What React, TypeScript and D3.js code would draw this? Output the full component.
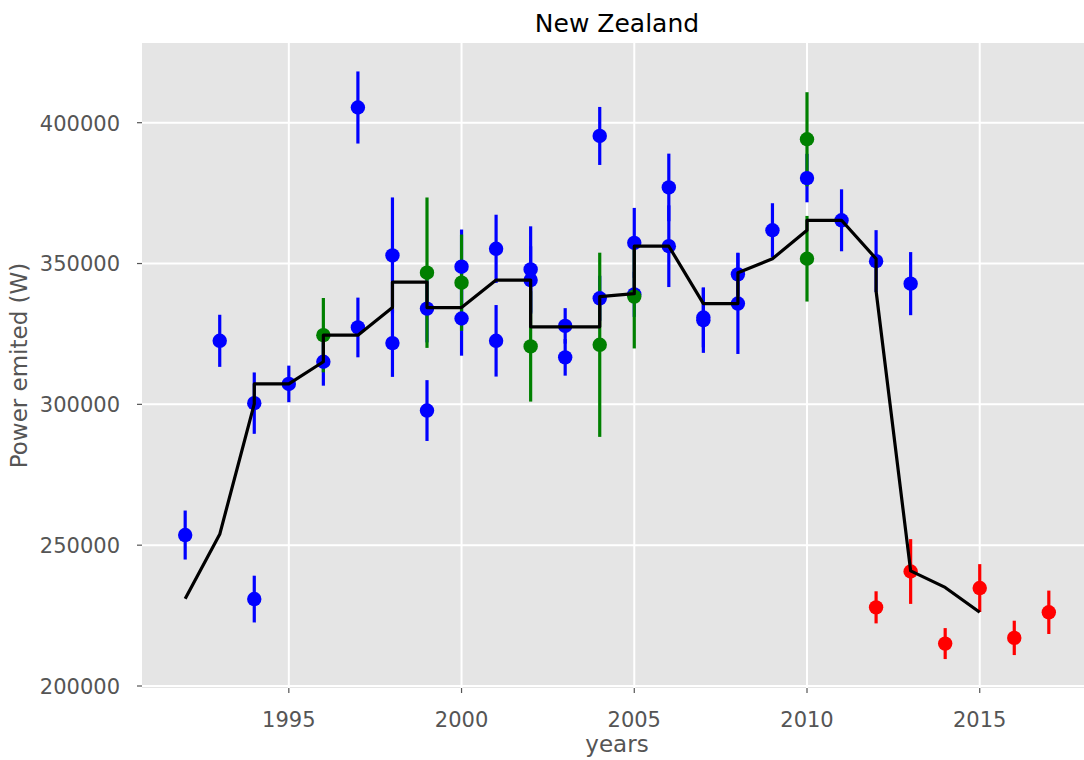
import React from "react";
import * as d3 from "d3";

// ---- data ----
const blueYears = [1992, 1993, 1994, 1994, 1995, 1996, 1997, 1997, 1998, 1998, 1999, 1999, 2000, 2000, 2001, 2001, 2002, 2002, 2003, 2003, 2004, 2004, 2005, 2005, 2006, 2006, 2007, 2007, 2008, 2008, 2009, 2010, 2011, 2012, 2013];
const blueValues = [253600, 322560, 300430, 230870, 307250, 315130, 405400, 327300, 352870, 321750, 334000, 297800, 348870, 330480, 355230, 322560, 347910, 344130, 327860, 316690, 395300, 337660, 357350, 339060, 377020, 356150, 330830, 329880, 346150, 335790, 361810, 380340, 365350, 350850, 342860];
const blueErrors = [8700, 9250, 10900, 8300, 6500, 8500, 12800, 10600, 20600, 12000, 12000, 10800, 13200, 13200, 12100, 12700, 15300, 12000, 6300, 6500, 10300, 8000, 12400, 8000, 12000, 14500, 10600, 11600, 7700, 17900, 9600, 8600, 11000, 11000, 11200];

const greenYears = [1996, 1999, 2000, 2002, 2004, 2005, 2010, 2010];
const greenValues = [324570, 346750, 343200, 320580, 321150, 338250, 394130, 351700];
const greenErrors = [13200, 26700, 17100, 19600, 32700, 18400, 16700, 15200];

const redYears = [2012, 2013, 2014, 2015, 2016, 2017];
const redValues = [227930, 240650, 215060, 234770, 217080, 226170];
const redErrors = [5700, 11500, 5500, 8500, 6100, 7700];

const lineYears = [1992, 1993, 1994, 1994, 1995, 1996, 1996, 1997, 1998, 1998, 1999, 1999, 2000, 2001, 2002, 2002, 2003, 2004, 2004, 2005, 2005, 2006, 2007, 2008, 2008, 2009, 2010, 2010, 2011, 2012, 2012, 2013, 2014, 2015];
const lineValues = [230980, 253850, 300200, 307250, 307250, 315130, 324570, 324570, 334370, 343420, 343420, 334370, 334370, 344130, 344130, 327510, 327510, 327510, 338250, 339310, 356150, 356150, 335790, 335790, 346750, 351700, 361810, 365350, 365350, 351700, 340240, 240880, 235000, 226170];

const xTicks = [1995, 2000, 2005, 2010, 2015];
const yTicks = [200000, 250000, 300000, 350000, 400000];

const title = "New Zealand";
const xLabel = "years";
const yLabel = "Power emited (W)";

const series = [
  { color: "#0000ff", years: blueYears, values: blueValues, errors: blueErrors },
  { color: "#008000", years: greenYears, values: greenValues, errors: greenErrors },
  { color: "#ff0000", years: redYears, values: redValues, errors: redErrors },
];

export default function App() {
  const W = 1084;
  const H = 760;
  const left = 142;
  const top = 43;
  const right = 1092;
  const bottom = 688;

  const x = d3.scaleLinear().domain([1990.75, 2018.25]).range([left, right]);
  const y = d3.scaleLinear().domain([199290, 428300]).range([bottom, top]);

  const line = d3
    .line<number>()
    .x((_, i) => x(lineYears[i]))
    .y((d) => y(d));

  const font = "'DejaVu Sans', sans-serif";

  return (
    <svg
      width={W}
      height={H}
      style={{ position: "absolute", left: 0, top: 0, background: "#fff" }}
      fontFamily={font}
    >
      <defs>
        <clipPath id="plotclip">
          <rect x={left} y={top} width={right - left} height={bottom - top} />
        </clipPath>
      </defs>
      <rect x={left} y={top} width={right - left} height={bottom - top} fill="#e5e5e5" />
      {/* grid */}
      {xTicks.map((t) => (
        <line key={"gx" + t} x1={x(t)} x2={x(t)} y1={top} y2={bottom} stroke="#fff" strokeWidth={2} />
      ))}
      {yTicks.map((t) => (
        <line key={"gy" + t} x1={left} x2={right} y1={y(t)} y2={y(t)} stroke="#fff" strokeWidth={2} />
      ))}
      {/* ticks */}
      {xTicks.map((t) => (
        <g key={"tx" + t}>
          <line x1={x(t)} x2={x(t)} y1={bottom} y2={bottom + 5} stroke="#555" strokeWidth={1.2} />
          <text x={x(t)} y={727} textAnchor="middle" fontSize={21} fill="#555">
            {t}
          </text>
        </g>
      ))}
      {yTicks.map((t) => (
        <g key={"ty" + t}>
          <line x1={left - 5} x2={left} y1={y(t)} y2={y(t)} stroke="#555" strokeWidth={1.2} />
          <text x={120} y={y(t) + 7.8} textAnchor="end" fontSize={21} fill="#555">
            {t}
          </text>
        </g>
      ))}
      <g clipPath="url(#plotclip)">
        {/* error bars */}
        {series.map((s, si) =>
          s.values.map((v, i) => (
            <line
              key={"e" + si + "-" + i}
              x1={x(s.years[i])}
              x2={x(s.years[i])}
              y1={y(v - s.errors[i])}
              y2={y(v + s.errors[i])}
              stroke={s.color}
              strokeWidth={3.2}
            />
          ))
        )}
        {/* points */}
        {series.map((s, si) =>
          s.values.map((v, i) => (
            <circle key={"p" + si + "-" + i} cx={x(s.years[i])} cy={y(v)} r={7.2} fill={s.color} />
          ))
        )}
        <path d={line(lineValues) || ""} fill="none" stroke="#000" strokeWidth={3.2} strokeLinejoin="round" />
      </g>
      <text x={(left + right) / 2} y={32} textAnchor="middle" fontSize={25} fill="#000">
        {title}
      </text>
      <text x={(left + right) / 2} y={752} textAnchor="middle" fontSize={23} fill="#555">
        {xLabel}
      </text>
      <text
        transform={`translate(27, ${(top + bottom) / 2}) rotate(-90)`}
        textAnchor="middle"
        fontSize={23}
        fill="#555"
      >
        {yLabel}
      </text>
    </svg>
  );
}
